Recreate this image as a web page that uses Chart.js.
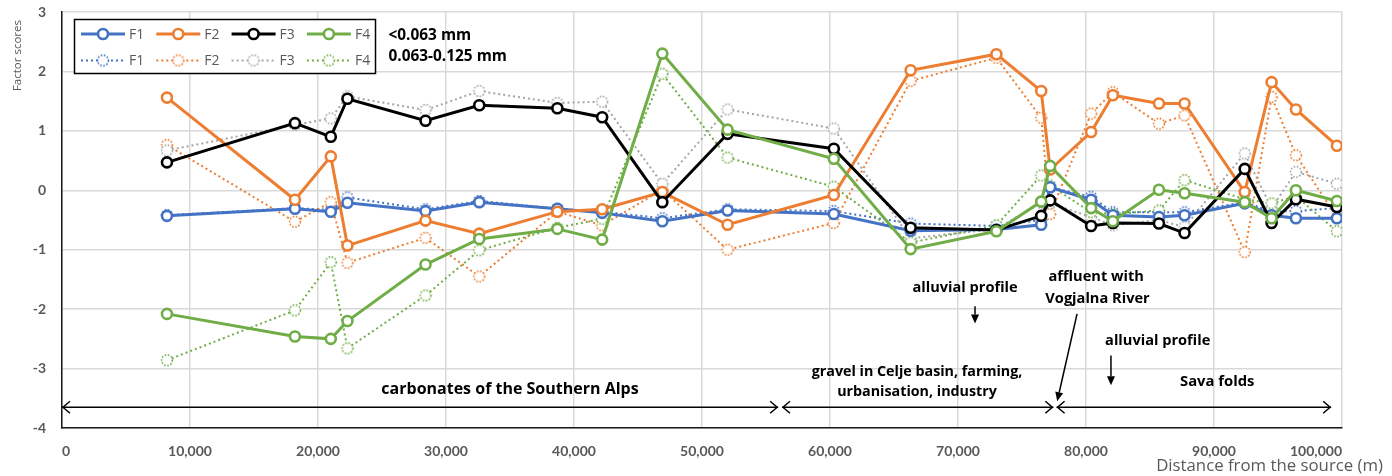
<!DOCTYPE html>
<html><head><meta charset="utf-8">
<script src="https://cdn.jsdelivr.net/npm/chart.js@4.4.1/dist/chart.umd.min.js"></script>
<style>html,body{margin:0;padding:0;background:#fff;overflow:hidden}</style>
</head><body>
<canvas id="c" width="1392" height="476"></canvas>
<script>
// ---- data (distance from the source in m) ----
const distances = [8200, 18200, 21000, 22300, 28400, 32600, 38700, 42200, 46900, 52000, 60300, 66300, 73000, 76500, 77200, 80400, 82100, 85700, 87700, 92400, 94500, 96400, 99600];
// fraction <0.063 mm (solid)
const f1Fine = [-0.43, -0.31, -0.36, -0.21, -0.35, -0.20, -0.31, -0.38, -0.52, -0.34, -0.40, -0.68, -0.66, -0.58, 0.05, -0.16, -0.42, -0.45, -0.42, -0.22, -0.42, -0.47, -0.47];
const f2Fine = [1.56, -0.16, 0.57, -0.93, -0.51, -0.73, -0.36, -0.32, -0.03, -0.58, -0.08, 2.02, 2.29, 1.67, 0.35, 0.98, 1.60, 1.46, 1.46, -0.03, 1.82, 1.36, 0.75];
const f3Fine = [0.47, 1.13, 0.90, 1.54, 1.17, 1.43, 1.38, 1.23, -0.20, 0.95, 0.70, -0.63, -0.67, -0.43, -0.17, -0.60, -0.55, -0.56, -0.72, 0.36, -0.55, -0.15, -0.28];
const f4Fine = [-2.08, -2.46, -2.50, -2.20, -1.25, -0.82, -0.65, -0.83, 2.30, 1.02, 0.53, -0.99, -0.69, -0.19, 0.41, -0.30, -0.52, 0.01, -0.05, -0.20, -0.47, 0.00, -0.18];
// fraction 0.063-0.125 mm (dotted)
const f1Coarse = [-0.42, -0.30, -0.33, -0.12, -0.32, -0.18, -0.31, -0.36, -0.47, -0.32, -0.35, -0.56, -0.60, -0.50, 0.05, -0.11, -0.37, -0.37, -0.37, -0.20, -0.36, -0.35, -0.30];
const f2Coarse = [0.76, -0.53, -0.20, -1.22, -0.80, -1.45, -0.36, -0.59, 0.01, -1.00, -0.55, 1.84, 2.23, 1.22, -0.40, 1.29, 1.65, 1.12, 1.26, -1.04, 1.57, 0.59, -0.45];
const f3Coarse = [0.67, 1.10, 1.21, 1.58, 1.35, 1.67, 1.47, 1.49, 0.11, 1.36, 1.04, -0.81, -0.65, -0.21, -0.22, -0.45, -0.59, -0.50, -0.62, 0.62, -0.30, 0.31, 0.11];
const f4Coarse = [-2.86, -2.02, -1.21, -2.66, -1.77, -1.01, -0.63, -0.48, 1.96, 0.55, 0.06, -0.88, -0.59, 0.25, 0.08, -0.37, -0.40, -0.34, 0.17, -0.15, -0.22, -0.10, -0.69];

const factorNames = ['F1', 'F2', 'F3', 'F4'];
const fractionLabels = ['<0.063 mm', '0.063-0.125 mm'];
const xTitle = 'Distance from the source (m)';
const yTitle = 'Factor scores';

// annotations (in data units)
const annoTexts = [
  {text: 'carbonates of the Southern Alps', x: 35000, y: -3.35, size: 16},
  {text: 'gravel in Celje basin, farming,', x: 66800, y: -3.06, size: 14.3},
  {text: 'urbanisation, industry', x: 66800, y: -3.40, size: 14.3},
  {text: 'Sava folds', x: 90250, y: -3.23, size: 14.8},
  {text: 'alluvial profile', x: 70550, y: -1.65, size: 14.6},
  {text: 'affluent with', x: 80800, y: -1.46, size: 14.6},
  {text: 'Vogjalna River', x: 80900, y: -1.83, size: 14.6},
  {text: 'alluvial profile', x: 85600, y: -2.53, size: 14.6}
];
const rangeArrows = [
  {from: 0, to: 55950, y: -3.65},
  {from: 56250, to: 77450, y: -3.65},
  {from: 77700, to: 99150, y: -3.65}
];
const pointerArrows = [
  {x1: 71330, y1: -1.95, x2: 71330, y2: -2.24},
  {x1: 79300, y1: -2.08, x2: 77750, y2: -3.55},
  {x1: 81950, y1: -2.78, x2: 81950, y2: -3.28}
];

const solidColors = ['#4472C4', '#ED7D31', '#000000', '#70AD47'];
const dotColors = ['#4472C4', '#ED7D31', '#A5A5A5', '#70AD47'];
const DASH = [2, 3];

function dottedMarker(color) {
  const c = document.createElement('canvas');
  c.width = 16; c.height = 16;
  const g = c.getContext('2d');
  g.beginPath(); g.arc(8, 8, 5.4, 0, Math.PI * 2);
  g.fillStyle = '#fff'; g.fill();
  g.setLineDash([1.6, 1.6]); g.lineWidth = 1.6; g.strokeStyle = color; g.stroke();
  return c;
}

function pts(arr) { return distances.map((d, i) => ({x: d, y: arr[i]})); }

const fineSeries = [f1Fine, f2Fine, f3Fine, f4Fine];
const coarseSeries = [f1Coarse, f2Coarse, f3Coarse, f4Coarse];

const datasets = [];
fineSeries.forEach((arr, i) => {
  datasets.push({
    label: factorNames[i] + ' ' + fractionLabels[0],
    data: pts(arr),
    borderColor: solidColors[i], backgroundColor: '#fff',
    borderWidth: 3, pointRadius: 5, pointBorderWidth: 2.6,
    pointBackgroundColor: '#fff', pointBorderColor: solidColors[i],
    tension: 0, order: 4 - i, _row: 0, _col: i
  });
});
coarseSeries.forEach((arr, i) => {
  const mk = dottedMarker(dotColors[i]);
  datasets.push({
    label: factorNames[i] + ' ' + fractionLabels[1],
    data: pts(arr),
    borderColor: dotColors[i], backgroundColor: '#fff',
    borderWidth: 2, borderDash: DASH, pointStyle: mk, pointRadius: 6,
    tension: 0, order: 8 - i, _row: 1, _col: i, _marker: mk
  });
});

const FONT = 'Lato, "Open Sans", sans-serif';
const WFONT = '"Open Sans", Lato, sans-serif';

const overlayPlugin = {
  id: 'overlay',
  afterDraw(chart) {
    const ctx = chart.ctx, a = chart.chartArea;
    const xs = chart.scales.x, ys = chart.scales.y;
    ctx.save();
    // legend box
    const bx = a.left + 12.5, by = a.top + 7.5, bw = 301, bh = 54;
    ctx.fillStyle = '#fff'; ctx.fillRect(bx, by, bw, bh);
    ctx.strokeStyle = '#000'; ctx.lineWidth = 1.5; ctx.strokeRect(bx, by, bw, bh);
    chart.data.datasets.forEach(ds => {
      const x0 = bx + 6.5 + ds._col * 75.3, y = by + 14.5 + ds._row * 26.5;
      ctx.save();
      ctx.strokeStyle = ds.borderColor; ctx.lineWidth = ds.borderWidth;
      ctx.setLineDash(ds.borderDash || []);
      ctx.beginPath(); ctx.moveTo(x0, y); ctx.lineTo(x0 + 44, y); ctx.stroke();
      ctx.setLineDash([]);
      if (ds._marker) {
        ctx.drawImage(ds._marker, x0 + 22 - 8, y - 8);
      } else {
        ctx.beginPath(); ctx.arc(x0 + 22, y, 5, 0, Math.PI * 2);
        ctx.fillStyle = '#fff'; ctx.fill();
        ctx.lineWidth = 2.6; ctx.strokeStyle = ds.borderColor; ctx.stroke();
      }
      ctx.fillStyle = '#595959'; ctx.font = '14px ' + WFONT;
      ctx.textAlign = 'left'; ctx.textBaseline = 'middle';
      ctx.fillText(ds.label.split(' ')[0], x0 + 48, y + 1);
      ctx.restore();
    });
    // fraction labels
    ctx.fillStyle = '#000'; ctx.font = 'bold 15.4px ' + WFONT;
    ctx.textAlign = 'left'; ctx.textBaseline = 'middle';
    ctx.fillText(fractionLabels[0], bx + bw + 13, a.top + 24);
    ctx.fillText(fractionLabels[1], bx + bw + 13, a.top + 45);
    // text annotations
    annoTexts.forEach(t => {
      ctx.font = 'bold ' + t.size + 'px ' + WFONT;
      ctx.textAlign = 'center';
      ctx.fillText(t.text, xs.getPixelForValue(t.x), ys.getPixelForValue(t.y));
    });
    // axis titles
    ctx.fillStyle = '#595959'; ctx.font = '16.8px ' + WFONT;
    ctx.textAlign = 'right';
    ctx.fillText(xTitle, chart.width - 9, chart.height - 10);
    ctx.save();
    ctx.translate(18, a.top + 8);
    ctx.rotate(-Math.PI / 2);
    ctx.font = '11.5px ' + WFONT;
    ctx.textAlign = 'right';
    ctx.fillText(yTitle, 0, 0);
    ctx.restore();
    // range arrows (open heads)
    ctx.strokeStyle = '#000'; ctx.lineWidth = 1.5;
    rangeArrows.forEach(r => {
      const x1 = xs.getPixelForValue(r.from), x2 = xs.getPixelForValue(r.to), y = ys.getPixelForValue(r.y);
      ctx.beginPath(); ctx.moveTo(x1, y); ctx.lineTo(x2, y); ctx.stroke();
      ctx.beginPath();
      ctx.moveTo(x1 + 8, y - 6); ctx.lineTo(x1 + 1, y); ctx.lineTo(x1 + 8, y + 6);
      ctx.moveTo(x2 - 8, y - 6); ctx.lineTo(x2 - 1, y); ctx.lineTo(x2 - 8, y + 6);
      ctx.stroke();
    });
    // pointer arrows (filled heads)
    ctx.fillStyle = '#000';
    pointerArrows.forEach(p => {
      const x1 = xs.getPixelForValue(p.x1), y1 = ys.getPixelForValue(p.y1);
      const x2 = xs.getPixelForValue(p.x2), y2 = ys.getPixelForValue(p.y2);
      const ang = Math.atan2(y2 - y1, x2 - x1), L = 9, W = 4;
      ctx.beginPath(); ctx.moveTo(x1, y1);
      ctx.lineTo(x2 - Math.cos(ang) * L, y2 - Math.sin(ang) * L); ctx.stroke();
      ctx.beginPath();
      ctx.moveTo(x2, y2);
      ctx.lineTo(x2 - Math.cos(ang) * L - Math.sin(ang) * W, y2 - Math.sin(ang) * L + Math.cos(ang) * W);
      ctx.lineTo(x2 - Math.cos(ang) * L + Math.sin(ang) * W, y2 - Math.sin(ang) * L - Math.cos(ang) * W);
      ctx.closePath(); ctx.fill();
    });
    ctx.restore();
  }
};

new Chart(document.getElementById('c'), {
  type: 'line',
  data: {datasets},
  options: {
    responsive: false, animation: false, devicePixelRatio: 1,
    layout: {padding: {left: 0, right: 50, top: 12, bottom: 0}},
    plugins: {legend: {display: false}, tooltip: {enabled: false}},
    scales: {
      x: {
        type: 'linear', min: 0, max: 100000,
        afterFit(s) { s.height = 48; s.paddingLeft = 0; s.paddingRight = 0; },
        ticks: {
          stepSize: 10000, align: 'inner', padding: 15,
          color: '#595959', font: {family: FONT, size: 14, weight: 'bold'},
          callback: v => v.toLocaleString('en-US')
        },
        grid: {color: '#d9d9d9', lineWidth: 1.5, drawTicks: false},
        border: {color: '#1a1a1a', width: 1.5},
        title: {display: false, text: xTitle}
      },
      y: {
        min: -4, max: 3,
        afterFit(s) { s.width = 62; s.paddingTop = 0; s.paddingBottom = 0; },
        ticks: {
          stepSize: 1, padding: 16,
          color: '#595959', font: {family: FONT, size: 14, weight: 'bold'}
        },
        grid: {color: '#d9d9d9', lineWidth: 1.5, drawTicks: false},
        border: {color: '#1a1a1a', width: 1.5},
        title: {display: false, text: yTitle}
      }
    }
  },
  plugins: [overlayPlugin]
});
</script>
</body></html>
